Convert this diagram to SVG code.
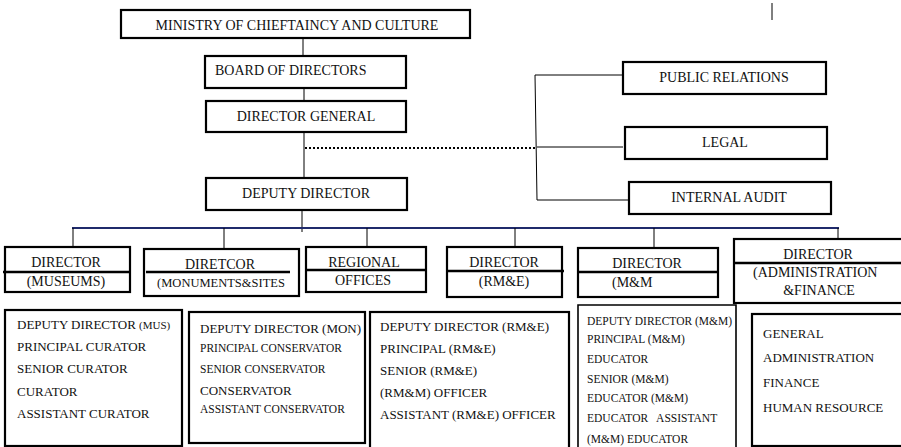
<svg xmlns="http://www.w3.org/2000/svg" width="901" height="447" viewBox="0 0 901 447" font-family="'Liberation Serif', 'Times New Roman', Tinos, 'DejaVu Serif', serif">
<style>
.box{fill:#fff;stroke:#000;stroke-width:2.2}
.thin{fill:none;stroke:#000;stroke-width:1.6}
.div{stroke:#000;stroke-width:2.5}
.con{fill:none;stroke:#000;stroke-width:1}
.blue{fill:none;stroke:#1f2a6b;stroke-width:2.2}
text{fill:#111}
.t{font-size:14px}
.c{text-anchor:middle}
.l{font-size:13px}
.s{font-size:11.5px}
</style>
<rect width="901" height="447" fill="#fff"/>
<g id="connectors">
<line class="con" x1="303" y1="38" x2="303" y2="56"/>
<line class="con" x1="304" y1="88" x2="304" y2="101"/>
<line class="con" x1="304" y1="132" x2="304" y2="178"/>
<line x1="305" y1="148" x2="537" y2="148" stroke="#000" stroke-width="2" stroke-dasharray="2,2"/>
<polyline class="con" points="625,75 535,75 537,200 629,200"/>
<line class="con" x1="537" y1="147" x2="623" y2="147"/>
<line class="con" x1="302" y1="210" x2="302" y2="232"/>
<line class="blue" x1="72" y1="228" x2="839" y2="228"/>
<line class="con" x1="73" y1="228" x2="73" y2="247"/>
<line class="con" x1="224" y1="228" x2="224" y2="249"/>
<line class="con" x1="367" y1="228" x2="367" y2="247"/>
<line class="con" x1="515" y1="228" x2="515" y2="247"/>
<line class="con" x1="654" y1="228" x2="654" y2="248"/>
<line class="con" x1="838" y1="228" x2="838" y2="239"/>
<line class="con" x1="772" y1="3" x2="772" y2="20"/>
</g>
<g id="ministry"><rect class="box" x="121" y="10" width="349" height="28"/><text class="t c" x="297" y="30">MINISTRY OF CHIEFTAINCY AND CULTURE</text></g>
<g id="board"><rect class="box" x="205" y="56" width="201" height="32"/><text class="t" x="215" y="75">BOARD OF DIRECTORS</text></g>
<g id="dg"><rect class="box" x="206" y="101" width="200" height="31"/><text class="t c" x="306" y="121">DIRECTOR GENERAL</text></g>
<g id="deputy"><rect class="box" x="206" y="178" width="201" height="32"/><text class="t c" x="306" y="198">DEPUTY DIRECTOR</text></g>
<g id="pr"><rect class="box" x="623" y="62" width="203" height="32"/><text class="t c" x="724" y="82">PUBLIC RELATIONS</text></g>
<g id="legal"><rect class="box" x="625" y="127" width="202" height="32"/><text class="t c" x="725" y="147">LEGAL</text></g>
<g id="audit"><rect class="box" x="629" y="182" width="202" height="32"/><text class="t c" x="729" y="202">INTERNAL AUDIT</text></g>

<g id="dir-museums"><rect class="box" x="5" y="247" width="125" height="45"/><line class="div" x1="3" y1="272" x2="131" y2="272"/><text class="t c" x="66" y="267">DIRECTOR</text><text class="t c" x="66" y="286">(MUSEUMS)</text></g>
<g id="dir-monuments"><rect class="box" x="144" y="249" width="155" height="47"/><line class="div" x1="146" y1="272" x2="290" y2="272"/><text class="t c" x="220" y="269">DIRETCOR</text><text class="c" x="221" y="287" font-size="12.5">(MONUMENTS&amp;SITES</text></g>
<g id="regional"><rect class="box" x="306" y="247" width="120" height="45"/><line class="div" x1="306" y1="270" x2="426" y2="270"/><text class="t c" x="364" y="267">REGIONAL</text><text class="t c" x="363" y="285">OFFICES</text></g>
<g id="dir-rme"><rect class="box" x="447" y="247" width="115" height="50"/><line class="div" x1="447" y1="271" x2="564" y2="271"/><text class="t c" x="504" y="267">DIRECTOR</text><text class="t c" x="504" y="286">(RM&amp;E)</text></g>
<g id="dir-mm"><rect class="box" x="578" y="248" width="140" height="49"/><line class="div" x1="578" y1="272" x2="718" y2="272"/><text class="t c" x="647" y="268">DIRECTOR</text><text class="t" x="612" y="287">(M&amp;M</text></g>
<g id="dir-admin"><rect class="box" x="734" y="239" width="172" height="64"/><line class="div" x1="734" y1="263" x2="901" y2="263"/><text class="t c" x="818" y="259">DIRECTOR</text><text class="t" x="753" y="277">(ADMINISTRATION</text><text class="t c" x="819" y="295">&amp;FINANCE</text></g>

<g id="list-museums"><rect class="box" x="5" y="310" width="177" height="136"/>
<text class="l" x="17" y="329">DEPUTY DIRECTOR <tspan font-size="11">(MUS)</tspan></text>
<text class="l" x="17" y="351">PRINCIPAL CURATOR</text>
<text class="l" x="17" y="373">SENIOR CURATOR</text>
<text class="l" x="17" y="396">CURATOR</text>
<text class="l" x="17" y="418">ASSISTANT CURATOR</text></g>
<g id="list-monuments"><rect class="box" x="189" y="312" width="176" height="131"/>
<text class="l" x="200" y="333">DEPUTY DIRECTOR (MON)</text>
<text class="s" x="200" y="352">PRINCIPAL CONSERVATOR</text>
<text class="s" x="200" y="373">SENIOR CONSERVATOR</text>
<text class="l" x="200" y="395">CONSERVATOR</text>
<text class="s" x="200" y="413">ASSISTANT CONSERVATOR</text></g>
<g id="list-rme"><rect class="box" x="370" y="312" width="199" height="140"/>
<text class="l" x="380" y="331">DEPUTY DIRECTOR (RM&amp;E)</text>
<text class="l" x="380" y="353">PRINCIPAL (RM&amp;E)</text>
<text class="l" x="380" y="375">SENIOR (RM&amp;E)</text>
<text class="l" x="380" y="397">(RM&amp;M) OFFICER</text>
<text class="l" x="380" y="419">ASSISTANT (RM&amp;E) OFFICER</text></g>
<g id="list-mm"><polyline class="thin" points="578,452 578,305 736,305 736,452"/>
<text class="s" x="587" y="325">DEPUTY DIRECTOR (M&amp;M)</text>
<text class="s" x="587" y="343">PRINCIPAL (M&amp;M)</text>
<text class="s" x="587" y="363">EDUCATOR</text>
<text class="s" x="587" y="383">SENIOR (M&amp;M)</text>
<text class="s" x="587" y="402">EDUCATOR (M&amp;M)</text>
<text class="s" x="587" y="422" xml:space="preserve">EDUCATOR   ASSISTANT</text>
<text class="s" x="587" y="443">(M&amp;M) EDUCATOR</text></g>
<g id="list-admin"><rect class="box" x="752" y="314" width="152" height="132"/>
<text class="l" x="763" y="338">GENERAL</text>
<text class="l" x="763" y="362">ADMINISTRATION</text>
<text class="l" x="763" y="387">FINANCE</text>
<text class="l" x="763" y="412">HUMAN RESOURCE</text></g>
</svg>
